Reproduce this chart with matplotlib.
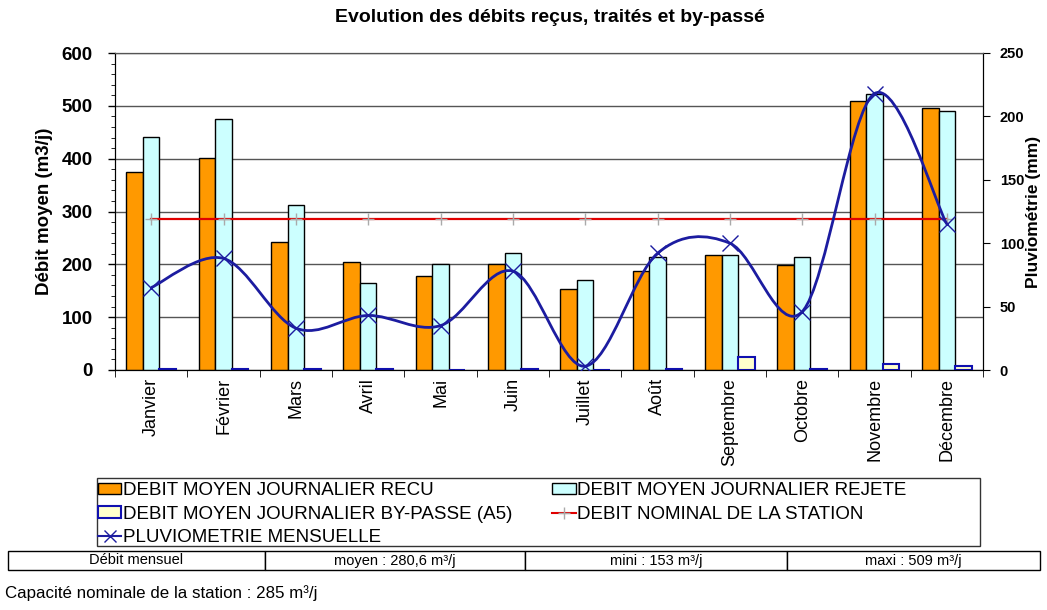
import matplotlib
matplotlib.use('Agg')
import matplotlib.pyplot as plt
from matplotlib.path import Path
from matplotlib.patches import PathPatch, Patch, Rectangle
from matplotlib.lines import Line2D
from matplotlib.ticker import MultipleLocator, FixedLocator

plt.rcParams['font.family'] = ['Liberation Sans', 'DejaVu Sans']

mois = ['Janvier', 'Février', 'Mars', 'Avril', 'Mai', 'Juin', 'Juillet',
        'Août', 'Septembre', 'Octobre', 'Novembre', 'Décembre']
recu = [375, 401, 243, 204, 178, 200, 153, 187, 218, 199, 509, 496]
rejete = [441, 475, 312, 165, 200, 222, 171, 213, 218, 213, 522, 491]
bypass = [2, 2, 2, 2, 0, 2, 0, 1, 25, 1, 12, 8]
nominal = [285] * 12
pluvio = [65, 88, 33, 43, 35, 78, 3, 92, 100, 46, 218, 115]

table_txt = ['Débit mensuel', 'moyen : 280,6 m³/j', 'mini : 153 m³/j', 'maxi : 509 m³/j']

fig = plt.figure(figsize=(10.47, 6.10), dpi=100)
ax = fig.add_axes([115/1047, 1-370/610, 868/1047, 317/610])
ax2 = ax.twinx()
ax.set_zorder(ax2.get_zorder() + 1)
ax.patch.set_visible(False)

x = list(range(12))
w = 0.23
ax.bar([i - w for i in x], recu, w, color='#FF9900', edgecolor='black', lw=1, zorder=2)
ax.bar(x, rejete, w, color='#CCFFFF', edgecolor='black', lw=1, zorder=2)
ax.bar([i + w for i in x], bypass, w, color='#FFFFCC', edgecolor='#1010B0', lw=1.5, zorder=2)
ax.plot(x, nominal, color='#E00000', lw=1.6, marker='+', ms=9, mec='#AAAAAA', mew=1, zorder=3)

# courbe lissée (type Excel) entre les points de pluviométrie
pts = list(zip(x, pluvio))
verts = [pts[0]]
codes = [Path.MOVETO]
for i in range(len(pts) - 1):
    p0 = pts[max(i - 1, 0)]
    p1 = pts[i]
    p2 = pts[i + 1]
    p3 = pts[min(i + 2, len(pts) - 1)]
    c1 = (p1[0] + (p2[0] - p0[0]) / 6, p1[1] + (p2[1] - p0[1]) / 6)
    c2 = (p2[0] - (p3[0] - p1[0]) / 6, p2[1] - (p3[1] - p1[1]) / 6)
    verts += [c1, c2, p2]
    codes += [Path.CURVE4] * 3
ax.add_patch(PathPatch(Path(verts, codes), transform=ax2.transData, fill=False,
                       edgecolor='#1C1CA0', lw=2, zorder=4))
ax.plot(x, pluvio, ls='none', marker='x', ms=11, mec='#1C1CA0', mew=1,
        transform=ax2.transData, zorder=5)

ax.set_xlim(-0.5, 11.5)
ax.set_ylim(0, 600)
ax2.set_ylim(0, 250)

ax.yaxis.set_major_locator(MultipleLocator(100))
ax.yaxis.set_minor_locator(MultipleLocator(20))
ax.tick_params(axis='y', which='major', length=5, labelsize=13.5, width=1, pad=11)
ax.tick_params(axis='y', which='minor', length=3)
for t in ax.get_yticklabels():
    t.set_fontweight('bold')
ax.grid(axis='y', which='major', color='#555555', lw=1)
ax.set_axisbelow(True)

ax.set_xticks(x)
ax.set_xticklabels(mois, rotation=90, fontsize=13)
ax.xaxis.set_minor_locator(FixedLocator([i + 0.5 for i in range(-1, 12)]))
ax.tick_params(axis='x', which='major', length=0, pad=6)
ax.tick_params(axis='x', which='minor', length=5)

ax2.yaxis.set_major_locator(MultipleLocator(50))
ax2.tick_params(axis='y', length=5, labelsize=10.5, pad=7)
for t in ax2.get_yticklabels():
    t.set_fontweight('bold')

ax.set_ylabel('Débit moyen (m3/j)', fontsize=13.5, fontweight='bold', labelpad=6)
ax2.set_ylabel('Pluviométrie (mm)', fontsize=12.5, fontweight='bold', labelpad=1)
ax.spines['top'].set_color('#555555')

fig.text(550/1047, 1-18/610, 'Evolution des débits reçus, traités et by-passé',
         ha='center', va='center', fontsize=14, fontweight='bold')

handles = [
    Patch(facecolor='#FF9900', edgecolor='black'),
    Patch(facecolor='#FFFFCC', edgecolor='#1010B0', lw=1.5),
    Line2D([], [], color='#1C1CA0', lw=1.5, marker='x', ms=8, mew=1),
    Patch(facecolor='#CCFFFF', edgecolor='black'),
    Line2D([], [], color='#E00000', lw=1.5, marker='+', ms=9, mec='#AAAAAA'),
]
labels = ['DEBIT MOYEN JOURNALIER RECU', 'DEBIT MOYEN JOURNALIER BY-PASSE (A5)',
          'PLUVIOMETRIE MENSUELLE', 'DEBIT MOYEN JOURNALIER REJETE',
          'DEBIT NOMINAL DE LA STATION']
fig.legend(handles, labels, ncol=2, loc='upper left',
           bbox_to_anchor=(98/1047, 1-482/610),
           fontsize=13.5, frameon=False, borderpad=0, labelspacing=0.36,
           handlelength=1.25, handleheight=0.55, handletextpad=0.1,
           columnspacing=2.1, borderaxespad=0)
fig.patches.append(Rectangle((97/1047, 1-546/610), 883/1047, 68/610,
                             transform=fig.transFigure, fill=False,
                             edgecolor='#333333', lw=1))

tax = fig.add_axes([8/1047, 1-570/610, 1032/1047, 19/610])
tax.axis('off')
tb = tax.table(cellText=[table_txt], colWidths=[257, 260, 262, 253], bbox=[0, 0, 1, 1],
               cellLoc='center')
tb.auto_set_font_size(False)
for c in tb.get_celld().values():
    c.set_fontsize(10.5)
    c.set_linewidth(1)

fig.text(5/1047, 1-593/610, 'Capacité nominale de la station : 285 m³/j',
         ha='left', va='center', fontsize=12.2)

fig.savefig('out.png', dpi=100)
